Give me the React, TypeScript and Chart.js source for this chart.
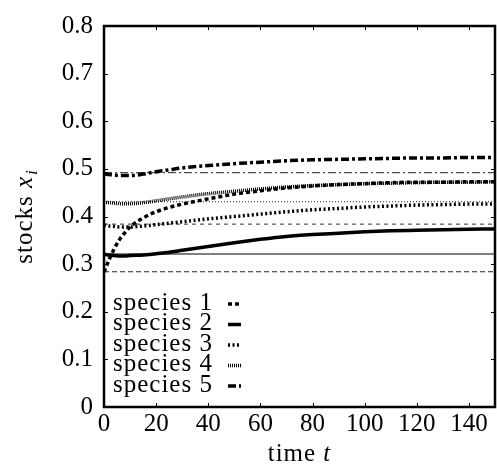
import React, { useEffect, useRef } from "react";
import { Chart, registerables } from "chart.js";

Chart.register(...registerables);

// ---- data ----
const times = [0, 2, 4, 6, 8, 10, 15, 20, 25, 30, 40, 50, 60, 70, 80, 90, 100, 110, 120, 130, 140, 150];
const species1 = [0.283, 0.31, 0.333, 0.352, 0.366, 0.378, 0.397, 0.41, 0.419, 0.426, 0.437, 0.447, 0.454, 0.46, 0.464, 0.467, 0.469, 0.471, 0.472, 0.472, 0.473, 0.473];
const species2 = [0.321, 0.319, 0.318, 0.317, 0.317, 0.318, 0.319, 0.322, 0.325, 0.329, 0.337, 0.345, 0.352, 0.358, 0.362, 0.365, 0.368, 0.37, 0.371, 0.372, 0.373, 0.374];
const species3 = [0.382, 0.38, 0.379, 0.378, 0.378, 0.378, 0.38, 0.383, 0.386, 0.389, 0.395, 0.4, 0.405, 0.41, 0.414, 0.417, 0.42, 0.422, 0.424, 0.425, 0.426, 0.426];
const species4 = [0.43, 0.429, 0.428, 0.427, 0.427, 0.427, 0.429, 0.433, 0.437, 0.441, 0.448, 0.453, 0.458, 0.462, 0.465, 0.467, 0.469, 0.47, 0.471, 0.472, 0.472, 0.473];
const species5 = [0.49, 0.488, 0.487, 0.486, 0.486, 0.486, 0.489, 0.494, 0.498, 0.502, 0.507, 0.511, 0.514, 0.517, 0.519, 0.52, 0.521, 0.522, 0.523, 0.523, 0.524, 0.524];
const referenceLevels = [0.284, 0.321, 0.384, 0.431, 0.492];
const referenceSpan = [0, 150];
const seriesLabels = ["species 1", "species 2", "species 3", "species 4", "species 5"];
const xTickValues = [0, 20, 40, 60, 80, 100, 120, 140];
const yTickValues = [0, 0.1, 0.2, 0.3, 0.4, 0.5, 0.6, 0.7, 0.8];

// ---- styles ----
const FONT = "'Liberation Serif', 'Times New Roman', serif";
const FONT_SIZE = 25;
const curveDashes = [[4, 3], [], [2, 2.5], [1, 1], [8, 3, 3, 3]];
const refDashes = [[5, 3], [], [4, 4], [1, 2], [8, 3, 2, 3]];
const refColors = ["#222", "#555", "#333", "#222", "#222"];

const allSeries = [species1, species2, species3, species4, species5];

const decorPlugin = {
  id: "decor",
  afterDraw(chart: any) {
    const { ctx, chartArea, scales } = chart;
    const { left, right, top, bottom } = chartArea;
    ctx.save();
    // inward ticks
    ctx.strokeStyle = "#000";
    ctx.lineWidth = 1;
    ctx.setLineDash([]);
    ctx.beginPath();
    for (const v of xTickValues) {
      const x = Math.round(scales.x.getPixelForValue(v)) + 0.5;
      ctx.moveTo(x, bottom);
      ctx.lineTo(x, bottom - 4);
      ctx.moveTo(x, top);
      ctx.lineTo(x, top + 4);
    }
    for (const v of yTickValues) {
      const y = Math.round(scales.y.getPixelForValue(v)) + 0.5;
      ctx.moveTo(left, y);
      ctx.lineTo(left + 4, y);
      ctx.moveTo(right, y);
      ctx.lineTo(right - 4, y);
    }
    ctx.stroke();

    // frame
    ctx.lineWidth = 2.5;
    ctx.strokeRect(left, top, right - left, bottom - top);

    // legend
    (ctx as any).letterSpacing = "1px";
    ctx.font = `${FONT_SIZE}px ${FONT}`;
    ctx.fillStyle = "#000";
    ctx.textBaseline = "middle";
    ctx.textAlign = "left";
    const legendTop = 303;
    const rowH = 20.5;
    seriesLabels.forEach((lab, i) => {
      const y = legendTop + i * rowH;
      ctx.fillText(lab, 113, y);
      ctx.save();
      ctx.lineWidth = 3.5;
      ctx.setLineDash(curveDashes[i]);
      ctx.beginPath();
      ctx.moveTo(228, y + 1);
      ctx.lineTo(241, y + 1);
      ctx.stroke();
      ctx.restore();
    });

    // x title
    const normal = `${FONT_SIZE}px ${FONT}`;
    const italic = `italic ${FONT_SIZE}px ${FONT}`;
    const sub = `italic 17px ${FONT}`;
    ctx.font = normal;
    const w1 = ctx.measureText("time ").width;
    ctx.font = italic;
    const w2 = ctx.measureText("t").width;
    const cx = (left + right) / 2;
    const sx = cx - (w1 + w2) / 2;
    ctx.textAlign = "left";
    ctx.textBaseline = "alphabetic";
    ctx.font = normal;
    ctx.fillText("time ", sx, 461);
    ctx.font = italic;
    ctx.fillText("t", sx + w1, 461);

    // y title
    ctx.translate(32, (top + bottom) / 2);
    ctx.rotate(-Math.PI / 2);
    ctx.font = normal;
    const a = ctx.measureText("stocks ").width;
    ctx.font = italic;
    const b = ctx.measureText("x").width;
    ctx.font = sub;
    const c = ctx.measureText("i").width;
    const ox = -(a + b + c + 1) / 2;
    ctx.font = normal;
    ctx.fillText("stocks ", ox, 0);
    ctx.font = italic;
    ctx.fillText("x", ox + a, 0);
    ctx.font = sub;
    ctx.fillText("i", ox + a + b + 1, 5);
    ctx.restore();
  },
};

export default function App() {
  const ref = useRef<HTMLCanvasElement | null>(null);
  useEffect(() => {
    if (!ref.current) return;
    const curveSets = allSeries.map((s, i) => ({
      label: seriesLabels[i],
      data: times.map((t, k) => ({ x: t, y: s[k] })),
      borderColor: "#000",
      borderWidth: 3.5,
      borderDash: curveDashes[i],
      pointRadius: 0,
      fill: false,
      cubicInterpolationMode: "monotone" as const,
      borderCapStyle: "butt" as const,
    }));
    const refSets = referenceLevels.map((lv, i) => ({
      label: seriesLabels[i] + " ref",
      data: referenceSpan.map((t) => ({ x: t, y: lv })),
      borderColor: refColors[i],
      borderWidth: i === 1 ? 1.5 : 1,
      borderDash: refDashes[i],
      pointRadius: 0,
      fill: false,
    }));
    const chart = new Chart(ref.current, {
      type: "line",
      data: { datasets: [...curveSets, ...refSets] as any },
      options: {
        animation: false,
        responsive: false,
        devicePixelRatio: 1,
        layout: { padding: { top: 8, right: 2, left: 0, bottom: 0 } },
        plugins: { legend: { display: false }, tooltip: { enabled: false } },
        scales: {
          x: {
            type: "linear",
            min: 0,
            max: 150,
            afterFit: (s: any) => { s.height = 61; },
            afterBuildTicks: (s: any) => { s.ticks = xTickValues.map((v) => ({ value: v })); },
            grid: { display: false, drawTicks: false },
            border: { display: false },
            ticks: {
              color: "#000",
              padding: 2,
              maxRotation: 0,
              autoSkip: false,
              font: { family: FONT, size: FONT_SIZE },
              callback: (v: any) => String(v),
            },
          },
          y: {
            type: "linear",
            min: 0,
            max: 0.8,
            afterFit: (s: any) => { s.width = 104; },
            afterBuildTicks: (s: any) => { s.ticks = yTickValues.map((v) => ({ value: v })); },
            grid: { display: false, drawTicks: false },
            border: { display: false },
            ticks: {
              color: "#000",
              padding: 11,
              autoSkip: false,
              font: { family: FONT, size: FONT_SIZE },
              callback: (v: any) => (Number(v) === 0 ? "0" : Number(v).toFixed(1)),
            },
          },
        },
      },
      plugins: [decorPlugin],
    });
    return () => chart.destroy();
  }, []);
  return (
    <div style={{ position: "fixed", left: 0, top: 0, width: 497, height: 468, background: "#fff" }}>
      <canvas ref={ref} width={497} height={468} style={{ display: "block" }} />
    </div>
  );
}
